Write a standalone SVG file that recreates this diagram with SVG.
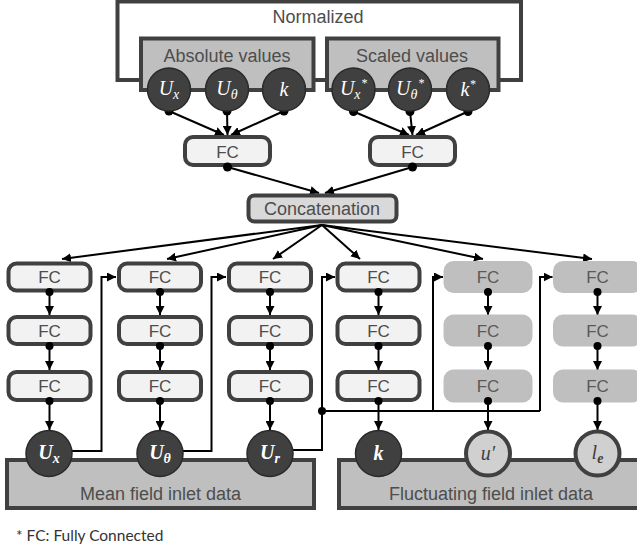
<svg xmlns="http://www.w3.org/2000/svg" width="637" height="551" viewBox="0 0 637 551">
<defs>
<marker id="ah" viewBox="0 0 10 10" refX="10" refY="5" markerWidth="9" markerHeight="9" markerUnits="userSpaceOnUse" orient="auto"><path d="M0,0 L10,5 L0,10 z" fill="#000"/></marker>
<style>
.lbl{font-family:"Liberation Sans",Arial,sans-serif;font-size:18px;fill:#4d4d4d;text-anchor:middle}
.fc{font-family:"Liberation Sans",Arial,sans-serif;font-size:17px;fill:#4d4d4d;text-anchor:middle}
.fcg{font-family:"Liberation Sans",Arial,sans-serif;font-size:17px;fill:#5a5a5a;text-anchor:middle}
.grp{fill:#bfbfbf;stroke:#404040;stroke-width:4}
.box{fill:#f2f2f2;stroke:#404040;stroke-width:4}
.gbox{fill:#bfbfbf;stroke:none}
.dc{fill:#404040;stroke:#2a2a2a;stroke-width:1.5}
.lc{fill:#d0d0d0;stroke:#404040;stroke-width:4}
.mt{font-family:"Liberation Serif","Times New Roman",serif;font-style:italic;font-size:20px;fill:#fff;text-anchor:middle}
.mb{font-family:"Liberation Serif","Times New Roman",serif;font-style:italic;font-weight:bold;font-size:20px;fill:#fff;text-anchor:middle}
.md{font-family:"Liberation Serif","Times New Roman",serif;font-style:italic;font-size:20px;fill:#404040;text-anchor:middle}
.ln{fill:none;stroke:#000;stroke-width:2}
.la{fill:none;stroke:#000;stroke-width:2;marker-end:url(#ah)}
.dot{fill:#000}
</style>
</defs>
<rect width="637" height="551" fill="#fff"/>

<g id="normalized">
<rect x="117.5" y="1.5" width="403.5" height="78.5" fill="#fff" stroke="#404040" stroke-width="4"/>
<text class="lbl" x="318" y="23">Normalized</text>
</g>
<g id="absolute">
<rect class="grp" x="141" y="38.5" width="172.5" height="51.5"/>
<text class="lbl" x="227" y="61.5">Absolute values</text>
</g>
<g id="scaled">
<rect class="grp" x="327" y="38.5" width="171.5" height="51.5"/>
<text class="lbl" x="412" y="61.5">Scaled values</text>
</g>

<g id="connectors">
<line class="la" x1="169" y1="111" x2="224" y2="135"/>
<line class="la" x1="227" y1="111" x2="227.5" y2="135"/>
<line class="la" x1="284" y1="111" x2="231" y2="135"/>
<line class="la" x1="353.5" y1="111.5" x2="409" y2="135"/>
<line class="la" x1="410" y1="111.5" x2="412.5" y2="135"/>
<line class="la" x1="468" y1="111.5" x2="416" y2="135"/>
<line class="la" x1="227.5" y1="167" x2="319" y2="193"/>
<line class="la" x1="412.5" y1="167" x2="325" y2="193"/>
<line class="la" x1="322" y1="225" x2="62" y2="259"/>
<line class="la" x1="322" y1="225" x2="167" y2="259"/>
<line class="la" x1="322" y1="225" x2="273" y2="259"/>
<line class="la" x1="322" y1="225" x2="360" y2="259"/>
<line class="la" x1="322" y1="225" x2="483" y2="259"/>
<line class="la" x1="322" y1="225" x2="592" y2="259"/>
<g id="col-arrows">
<line class="la" x1="49.5" y1="293" x2="49.5" y2="315"/><line class="la" x1="49.5" y1="347" x2="49.5" y2="370"/><line class="la" x1="49.5" y1="402" x2="49.5" y2="430"/>
<line class="la" x1="160" y1="293" x2="160" y2="315"/><line class="la" x1="160" y1="347" x2="160" y2="370"/><line class="la" x1="160" y1="402" x2="160" y2="430"/>
<line class="la" x1="270" y1="293" x2="270" y2="315"/><line class="la" x1="270" y1="347" x2="270" y2="370"/><line class="la" x1="270" y1="402" x2="270" y2="430"/>
<line class="la" x1="378.5" y1="293" x2="378.5" y2="315"/><line class="la" x1="378.5" y1="347" x2="378.5" y2="370"/><line class="la" x1="378.5" y1="402" x2="378.5" y2="430"/>
<line class="la" x1="488" y1="293" x2="488" y2="315"/><line class="la" x1="488" y1="347" x2="488" y2="370"/><line class="la" x1="488" y1="402" x2="488" y2="430"/>
<line class="la" x1="597.5" y1="293" x2="597.5" y2="315"/><line class="la" x1="597.5" y1="347" x2="597.5" y2="370"/><line class="la" x1="597.5" y1="402" x2="597.5" y2="430"/>
</g>
<polyline class="la" points="71,451 101.5,451 101.5,277 116,277"/>
<polyline class="la" points="182,451 211.5,451 211.5,277 226,277"/>
<polyline class="la" points="292,450 322,450 322,277 335,277"/>
<line class="ln" x1="322" y1="411" x2="540" y2="411"/>
<polyline class="la" points="433,411 433,277 443,277"/>
<polyline class="la" points="540,411 540,277 552.5,277"/>
<circle class="dot" cx="322" cy="411" r="4"/>
</g>

<g id="fc-top-1"><rect class="box" x="185" y="137" width="85" height="28" rx="8"/><text class="fc" x="227.5" y="157.5">FC</text></g>
<g id="fc-top-2"><rect class="box" x="370" y="137" width="85" height="28" rx="8"/><text class="fc" x="412.5" y="157.5">FC</text></g>
<g id="concatenation"><rect x="248.5" y="195.5" width="148" height="26" rx="6" fill="#d9d9d9" stroke="#404040" stroke-width="4"/><text class="lbl" x="322" y="214.5">Concatenation</text></g>

<g id="col1">
<rect class="box" x="8.5" y="263.5" width="82" height="27" rx="8"/><text class="fc" x="49.5" y="283">FC</text>
<rect class="box" x="8.5" y="317" width="82" height="27" rx="8"/><text class="fc" x="49.5" y="336.5">FC</text>
<rect class="box" x="8.5" y="372" width="82" height="28" rx="8"/><text class="fc" x="49.5" y="392">FC</text>
</g>
<g id="col2">
<rect class="box" x="119" y="263.5" width="82" height="27" rx="8"/><text class="fc" x="160" y="283">FC</text>
<rect class="box" x="119" y="317" width="82" height="27" rx="8"/><text class="fc" x="160" y="336.5">FC</text>
<rect class="box" x="119" y="372" width="82" height="28" rx="8"/><text class="fc" x="160" y="392">FC</text>
</g>
<g id="col3">
<rect class="box" x="229" y="263.5" width="82" height="27" rx="8"/><text class="fc" x="270" y="283">FC</text>
<rect class="box" x="229" y="317" width="82" height="27" rx="8"/><text class="fc" x="270" y="336.5">FC</text>
<rect class="box" x="229" y="372" width="82" height="28" rx="8"/><text class="fc" x="270" y="392">FC</text>
</g>
<g id="col4">
<rect class="box" x="337.5" y="263.5" width="82" height="27" rx="8"/><text class="fc" x="378.5" y="283">FC</text>
<rect class="box" x="337.5" y="317" width="82" height="27" rx="8"/><text class="fc" x="378.5" y="336.5">FC</text>
<rect class="box" x="337.5" y="372" width="82" height="28" rx="8"/><text class="fc" x="378.5" y="392">FC</text>
</g>
<g id="col5">
<rect class="gbox" x="443.5" y="261" width="89" height="32" rx="10"/><text class="fcg" x="488" y="283">FC</text>
<rect class="gbox" x="443.5" y="314.5" width="89" height="32" rx="10"/><text class="fcg" x="488" y="336.5">FC</text>
<rect class="gbox" x="443.5" y="369.5" width="89" height="33" rx="10"/><text class="fcg" x="488" y="392">FC</text>
</g>
<g id="col6">
<rect class="gbox" x="553" y="261" width="89" height="32" rx="10"/><text class="fcg" x="597.5" y="283">FC</text>
<rect class="gbox" x="553" y="314.5" width="89" height="32" rx="10"/><text class="fcg" x="597.5" y="336.5">FC</text>
<rect class="gbox" x="553" y="369.5" width="89" height="33" rx="10"/><text class="fcg" x="597.5" y="392">FC</text>
</g>

<g id="dots">
<circle class="dot" cx="169" cy="111" r="4.5"/><circle class="dot" cx="227" cy="111" r="4.5"/><circle class="dot" cx="284" cy="111" r="4.5"/>
<circle class="dot" cx="353.5" cy="111.5" r="4.5"/><circle class="dot" cx="410" cy="111.5" r="4.5"/><circle class="dot" cx="468" cy="111.5" r="4.5"/>
<circle class="dot" cx="227.5" cy="167" r="4.5"/><circle class="dot" cx="412.5" cy="167" r="4.5"/>
<circle class="dot" cx="49.5" cy="292" r="4"/><circle class="dot" cx="49.5" cy="346" r="4"/><circle class="dot" cx="49.5" cy="401" r="4"/>
<circle class="dot" cx="160" cy="292" r="4"/><circle class="dot" cx="160" cy="346" r="4"/><circle class="dot" cx="160" cy="401" r="4"/>
<circle class="dot" cx="270" cy="292" r="4"/><circle class="dot" cx="270" cy="346" r="4"/><circle class="dot" cx="270" cy="401" r="4"/>
<circle class="dot" cx="378.5" cy="292" r="4"/><circle class="dot" cx="378.5" cy="346" r="4"/><circle class="dot" cx="378.5" cy="401" r="4"/>
<circle class="dot" cx="488" cy="292" r="4"/><circle class="dot" cx="488" cy="346" r="4"/><circle class="dot" cx="488" cy="401" r="4"/>
<circle class="dot" cx="597.5" cy="292" r="4"/><circle class="dot" cx="597.5" cy="346" r="4"/><circle class="dot" cx="597.5" cy="401" r="4"/>
</g>

<g id="in-Ux"><circle class="dc" cx="169" cy="89.5" r="21.5"/><text class="mt" x="169" y="95">U<tspan font-size="14" dy="4">x</tspan></text></g>
<g id="in-Ut"><circle class="dc" cx="227" cy="89.5" r="21.5"/><text class="mt" x="227" y="95">U<tspan font-size="14" dy="4">θ</tspan></text></g>
<g id="in-k"><circle class="dc" cx="284" cy="89.5" r="21.5"/><text class="mt" x="284" y="96">k</text></g>
<g id="in-Uxs"><circle class="dc" cx="353.5" cy="89.5" r="21.5"/><text class="mt" x="353.5" y="95">U<tspan font-size="14" dy="4">x</tspan><tspan font-size="12" dx="0.5" dy="-12">*</tspan></text></g>
<g id="in-Uts"><circle class="dc" cx="410" cy="89.5" r="21.5"/><text class="mt" x="410" y="95">U<tspan font-size="14" dy="4">θ</tspan><tspan font-size="12" dx="0.5" dy="-12">*</tspan></text></g>
<g id="in-ks"><circle class="dc" cx="468" cy="89.5" r="21.5"/><text class="mt" x="468" y="96">k<tspan font-size="12" dy="-8">*</tspan></text></g>

<g id="mean-field"><rect class="grp" x="7" y="460" width="307" height="48"/><text class="lbl" x="160.5" y="499.5">Mean field inlet data</text></g>
<g id="fluct-field"><rect class="grp" x="339" y="460" width="310" height="48"/><text class="lbl" x="491" y="499.5">Fluctuating field inlet data</text></g>

<g id="out-Ux"><circle class="dc" cx="49" cy="453.5" r="23"/><text class="mb" x="49" y="459">U<tspan font-size="14" dy="4">x</tspan></text></g>
<g id="out-Ut"><circle class="dc" cx="160" cy="453.5" r="23"/><text class="mb" x="160" y="459">U<tspan font-size="14" dy="4">θ</tspan></text></g>
<g id="out-Ur"><circle class="dc" cx="270" cy="453.5" r="23"/><text class="mb" x="270" y="459">U<tspan font-size="14" dy="4">r</tspan></text></g>
<g id="out-k"><circle class="dc" cx="378.5" cy="453.5" r="23"/><text class="mb" x="378.5" y="460">k</text></g>
<g id="out-u"><circle class="lc" cx="488" cy="453.5" r="22"/><text class="md" x="488" y="460">u′</text></g>
<g id="out-le"><circle class="lc" cx="597.5" cy="453.5" r="22"/><text class="md" x="597.5" y="459">l<tspan font-size="14" font-weight="bold" dy="4">e</tspan></text></g>

<text x="16" y="541" font-family="Lato, 'Open Sans', sans-serif" font-size="15.5" fill="#333">* FC: Fully Connected</text>
</svg>
